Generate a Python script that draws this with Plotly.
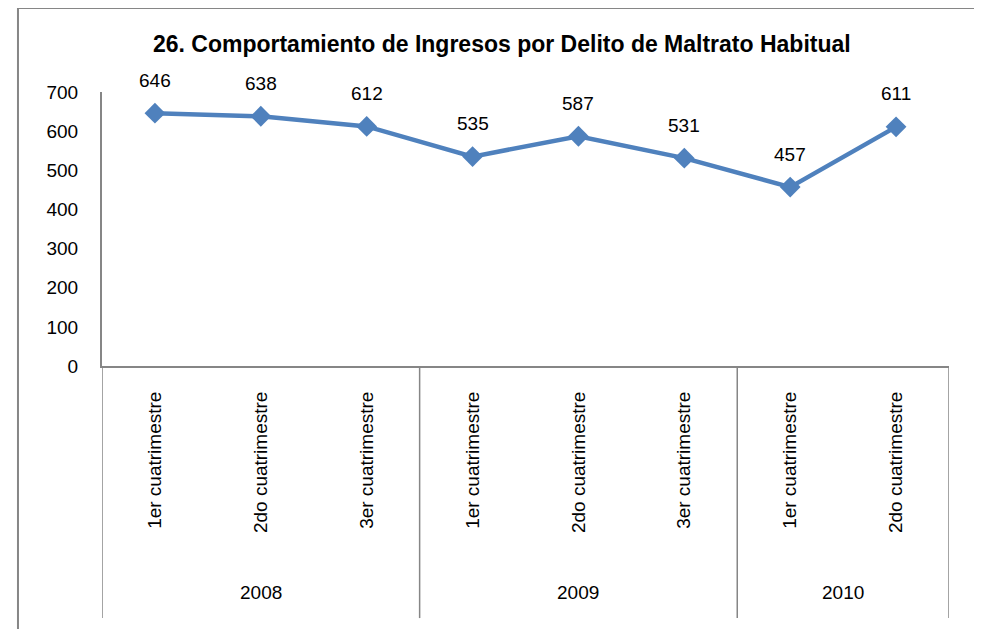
import plotly.graph_objects as go

# datos del grafico
periodos = ["1er cuatrimestre", "2do cuatrimestre", "3er cuatrimestre",
            "1er cuatrimestre", "2do cuatrimestre", "3er cuatrimestre",
            "1er cuatrimestre", "2do cuatrimestre"]
anios = ["2008", "2009", "2010"]
periodos_por_anio = [3, 3, 2]
ingresos = [646, 638, 612, 535, 587, 531, 457, 611]

titulo = "26. Comportamiento de Ingresos por Delito de Maltrato Habitual"
azul = "#4F81BD"
gris = "#868686"
fuente = "Liberation Sans"

xs = list(range(len(ingresos)))

fig = go.Figure()
fig.add_trace(go.Scatter(
    x=xs, y=ingresos, mode="lines+markers",
    line=dict(color=azul, width=4.5),
    marker=dict(symbol="diamond", size=16, color=azul),
    showlegend=False, hoverinfo="x+y",
))

# etiquetas de datos
for x, v in zip(xs, ingresos):
    fig.add_annotation(x=x, y=v, text=str(v), showarrow=False,
                       yshift=33, font=dict(size=19, color="black"))

# separadores y etiquetas de anio
y_fondo = -0.92
inicio = -0.5
shapes = [dict(type="line", xref="x", yref="paper", x0=inicio, x1=inicio,
               y0=0, y1=y_fondo, line=dict(color=gris, width=1.5))]
for anio, n in zip(anios, periodos_por_anio):
    fin = inicio + n
    shapes.append(dict(type="line", xref="x", yref="paper", x0=fin, x1=fin,
                       y0=0, y1=y_fondo, line=dict(color=gris, width=1.5)))
    fig.add_annotation(x=(inicio + fin) / 2, y=-0.825, xref="x", yref="paper",
                       text=anio, showarrow=False, yanchor="middle",
                       font=dict(size=19, color="black"))
    inicio = fin

# marco exterior
shapes.append(dict(type="rect", xref="paper", yref="paper",
                   x0=-0.0992, x1=1.0354, y0=1.3066, y1=-1.05,
                   line=dict(color=gris, width=2), layer="below"))

# la pagina tiene 8px de margen en el body
fig.update_layout(
    width=974, height=621,
    margin=dict(l=94, r=33, t=84, b=263),
    paper_bgcolor="white", plot_bgcolor="white",
    font=dict(family=fuente, size=19, color="black"),
    title=dict(text="<b>" + titulo + "</b>", x=0.507, xanchor="center",
               y=1 - 36 / 621, yanchor="middle", yref="container",
               font=dict(size=23, color="black")),
    shapes=shapes,
    xaxis=dict(range=[-0.5, len(ingresos) - 0.5], tickvals=xs, ticktext=periodos,
               tickangle=-90, showgrid=False, zeroline=False,
               showline=True, linecolor=gris, linewidth=2,
               ticks="", ticklabelstandoff=16, automargin=False),
    yaxis=dict(range=[0, 700], dtick=100, showgrid=False, zeroline=False,
               showline=True, linecolor=gris, linewidth=2,
               ticks="", ticklabelstandoff=18, automargin=False),
)

fig.write_html("out.html")
